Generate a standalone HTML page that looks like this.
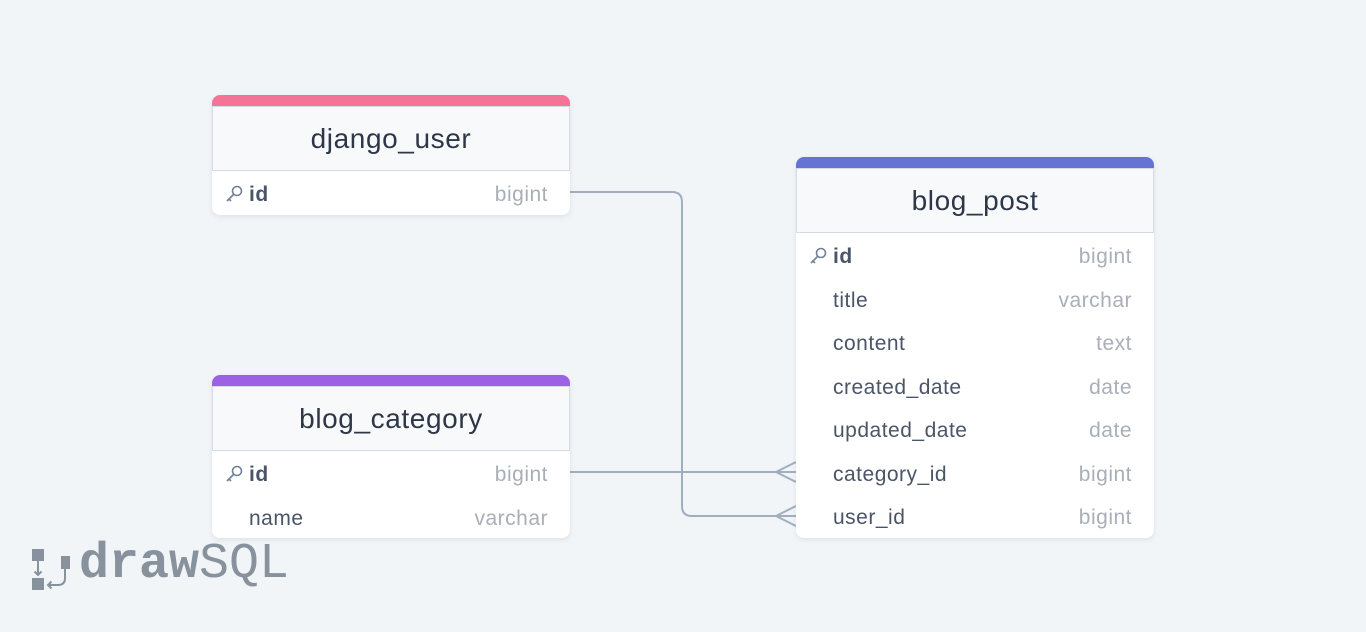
<!DOCTYPE html>
<html><head><style>
body{margin:0;width:1366px;height:632px;background:#f1f5f8;font-family:"Liberation Sans",sans-serif;position:relative;overflow:hidden}
.card{position:absolute;width:358px;background:#fff;border-radius:8px;box-shadow:0 2px 6px rgba(0,0,0,0.08);overflow:hidden}
.bar{height:11px}
.hd{height:63px;background:#f7f9fb;border:1px solid #d3dbe4;line-height:63px;text-align:center;font-size:28px;letter-spacing:0.6px;color:#2d3748}
.row{height:43.5px;line-height:47px;font-size:21px;letter-spacing:0.5px;color:#4a5568;position:relative;padding-left:37px}
.row .t{position:absolute;right:22px;top:0;color:#a9afb8}
.row.pk{font-weight:bold}
.row.pk .t{font-weight:normal}
.key{position:absolute;left:12px;top:13px}
</style></head><body>
<svg width="1366" height="632" style="position:absolute;left:0;top:0" fill="none" stroke="#a0aec0" stroke-width="2">
<path d="M570 192 H672 Q682 192 682 202 V506 Q682 516 692 516 H796"/>
<path d="M570 472 H796"/>
<path d="M796 462 L776 472 L796 482"/>
<path d="M796 506 L776 516 L796 526"/>
</svg>

<div class="card" style="left:212px;top:95px">
<div class="bar" style="background:#f67398"></div>
<div class="hd">django_user</div>
<div class="row pk"><svg class="key" width="20" height="20" viewBox="0 0 20 20" fill="none" stroke="#718096" stroke-width="1.6"><circle cx="13" cy="7" r="4.5"/><path d="M10 10 L3 17 M5 15 L7 17"/></svg>id<span class="t">bigint</span></div>
</div>

<div class="card" style="left:212px;top:375px">
<div class="bar" style="background:#9b63e3"></div>
<div class="hd">blog_category</div>
<div class="row pk"><svg class="key" width="20" height="20" viewBox="0 0 20 20" fill="none" stroke="#718096" stroke-width="1.6"><circle cx="13" cy="7" r="4.5"/><path d="M10 10 L3 17 M5 15 L7 17"/></svg>id<span class="t">bigint</span></div>
<div class="row">name<span class="t">varchar</span></div>
</div>

<div class="card" style="left:796px;top:157px">
<div class="bar" style="background:#6773d0"></div>
<div class="hd">blog_post</div>
<div class="row pk"><svg class="key" width="20" height="20" viewBox="0 0 20 20" fill="none" stroke="#718096" stroke-width="1.6"><circle cx="13" cy="7" r="4.5"/><path d="M10 10 L3 17 M5 15 L7 17"/></svg>id<span class="t">bigint</span></div>
<div class="row">title<span class="t">varchar</span></div>
<div class="row">content<span class="t">text</span></div>
<div class="row">created_date<span class="t">date</span></div>
<div class="row">updated_date<span class="t">date</span></div>
<div class="row">category_id<span class="t">bigint</span></div>
<div class="row">user_id<span class="t">bigint</span></div>
</div>

<svg width="50" height="50" style="position:absolute;left:28px;top:544px" fill="#87929d" stroke="#87929d">
<rect x="4" y="5" width="12" height="12" stroke="none"/>
<rect x="4" y="34" width="12" height="12" stroke="none"/>
<rect x="33" y="12" width="9" height="13" stroke="none"/>
<path d="M10 17 V31 M6.5 27.5 L10 31 L13.5 27.5" fill="none" stroke-width="2"/>
<path d="M37 25 V34 Q37 41 30 41 H20 M23.5 37.5 L20 41 L23.5 44.5" fill="none" stroke-width="2"/>
</svg>
<div style="position:absolute;left:79px;top:536px;font-family:'Liberation Mono',monospace;font-size:50px;color:#87929d;letter-spacing:0"><b>draw</b><span style="font-weight:normal">SQL</span></div>
</body></html>
